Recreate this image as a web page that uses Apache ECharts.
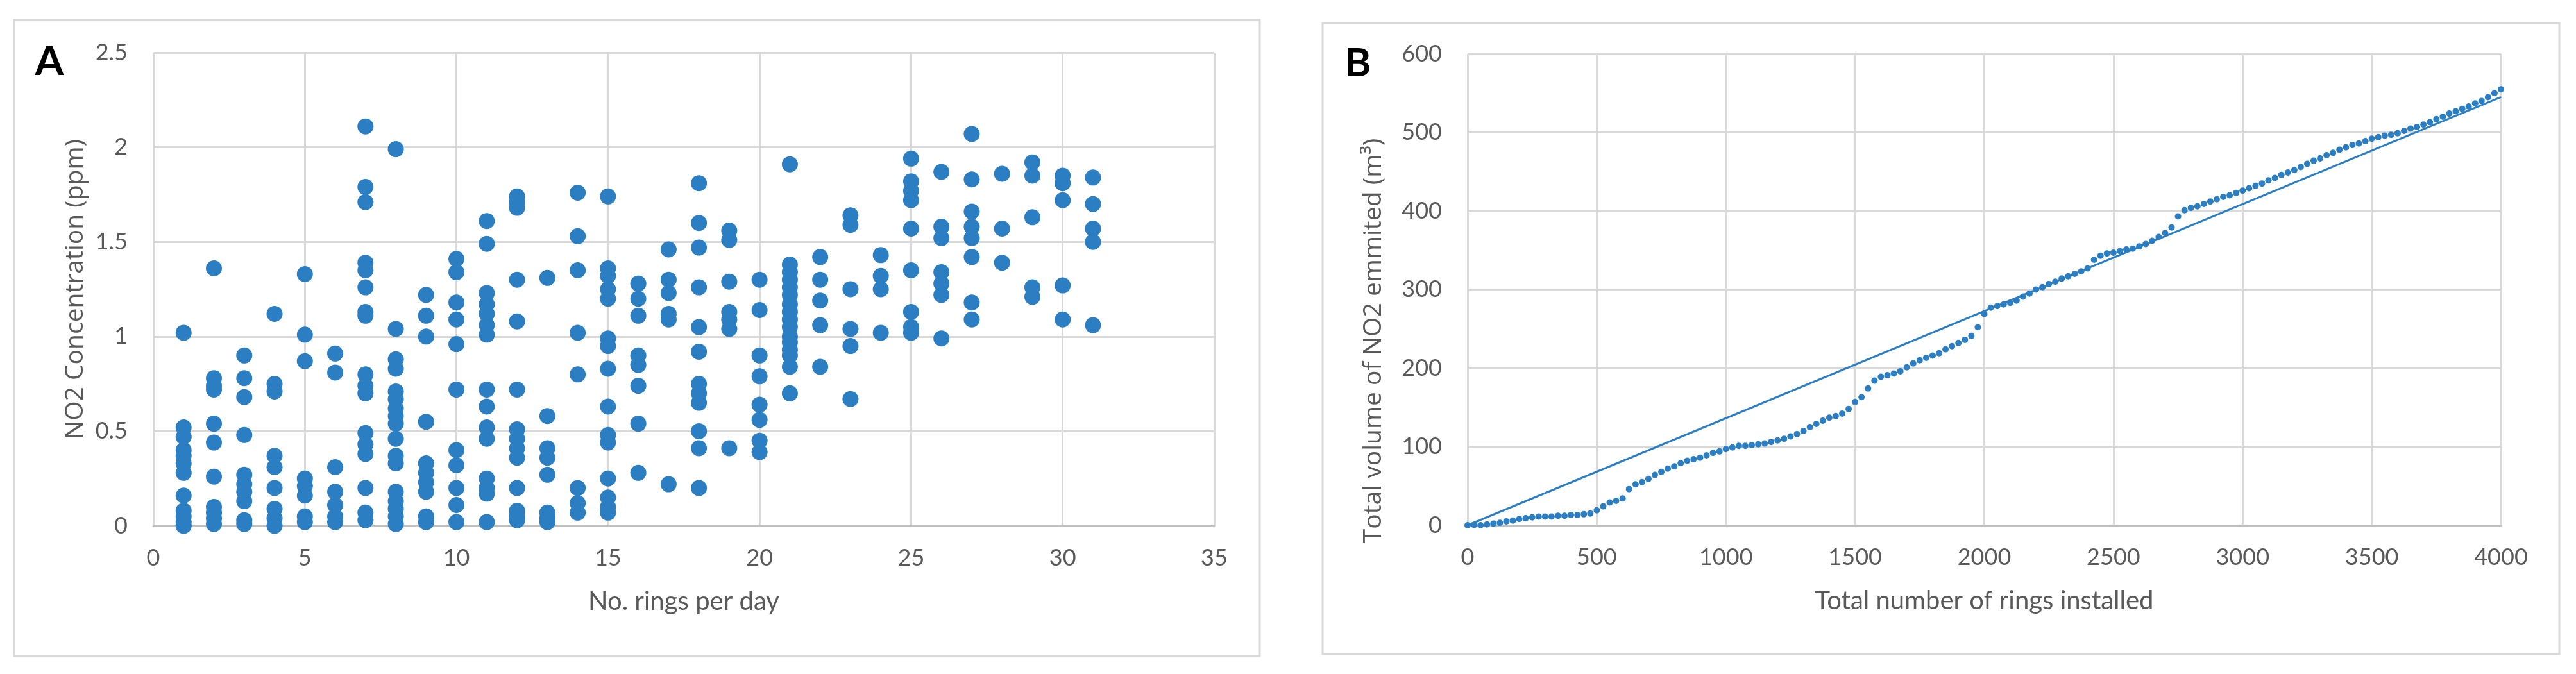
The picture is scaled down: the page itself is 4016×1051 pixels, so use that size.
<!DOCTYPE html>
<html>
<head>
<meta charset="utf-8">
<script src="https://cdn.jsdelivr.net/npm/echarts@6.0.0/dist/echarts.min.js"></script>
<style>
  html, body { margin: 0; padding: 0; background: #fff; }
  #chart { width: 4016px; height: 1051px; }
</style>
</head>
<body>
<div id="chart"></div>
<script>
// Panel A: NO2 concentration (ppm) against rings per day, one column of readings per x value
var colRings = [1, 2, 3, 4, 5, 6, 7, 8, 9, 10, 11, 12, 13, 14, 15, 16,
  17, 18, 19, 20, 21, 22, 23, 24, 25, 26, 27, 28, 29, 30, 31];
var colPpm = [
  [1.02, 0.52, 0.47, 0.40, 0.37, 0.33, 0.28, 0.16, 0.08, 0.05, 0.02, 0.0],
  [1.36, 0.78, 0.74, 0.72, 0.54, 0.44, 0.26, 0.10, 0.07, 0.04, 0.01],
  [0.90, 0.78, 0.68, 0.48, 0.27, 0.22, 0.18, 0.13, 0.03, 0.01],
  [1.12, 0.75, 0.71, 0.37, 0.31, 0.20, 0.09, 0.04, 0.0],
  [1.33, 1.01, 0.87, 0.25, 0.21, 0.16, 0.05, 0.02],
  [0.91, 0.81, 0.31, 0.18, 0.11, 0.05, 0.02],
  [2.11, 1.79, 1.71, 1.39, 1.35, 1.26, 1.13, 1.11, 0.80, 0.74, 0.70, 0.49, 0.43, 0.38, 0.20, 0.07, 0.03],
  [1.99, 1.04, 0.88, 0.83, 0.71, 0.67, 0.62, 0.58, 0.54, 0.46, 0.37, 0.33, 0.18, 0.13, 0.09, 0.05, 0.01],
  [1.22, 1.11, 1.00, 0.55, 0.33, 0.28, 0.23, 0.18, 0.05, 0.02],
  [1.41, 1.34, 1.18, 1.09, 0.96, 0.72, 0.40, 0.32, 0.20, 0.11, 0.02],
  [1.61, 1.49, 1.23, 1.17, 1.12, 1.06, 1.01, 0.72, 0.63, 0.52, 0.46, 0.25, 0.20, 0.17, 0.02],
  [1.74, 1.71, 1.68, 1.30, 1.08, 0.72, 0.51, 0.46, 0.41, 0.36, 0.20, 0.08, 0.05, 0.03],
  [1.31, 0.58, 0.41, 0.36, 0.27, 0.07, 0.04, 0.02],
  [1.76, 1.53, 1.35, 1.02, 0.80, 0.20, 0.12, 0.07],
  [1.74, 1.36, 1.32, 1.25, 1.20, 0.99, 0.95, 0.83, 0.63, 0.48, 0.44, 0.25, 0.15, 0.10, 0.07],
  [1.28, 1.20, 1.11, 0.90, 0.85, 0.74, 0.54, 0.28],
  [1.46, 1.30, 1.23, 1.12, 1.09, 0.22],
  [1.81, 1.60, 1.47, 1.26, 1.05, 0.92, 0.75, 0.70, 0.65, 0.50, 0.41, 0.20],
  [1.56, 1.51, 1.29, 1.13, 1.09, 1.04, 0.41],
  [1.30, 1.14, 0.90, 0.79, 0.64, 0.56, 0.45, 0.39],
  [1.91, 1.38, 1.34, 1.30, 1.26, 1.22, 1.17, 1.13, 1.09, 1.05, 1.00, 0.97, 0.93, 0.90, 0.84, 0.70],
  [1.42, 1.30, 1.19, 1.06, 0.84],
  [1.64, 1.59, 1.25, 1.04, 0.95, 0.67],
  [1.43, 1.32, 1.25, 1.02],
  [1.94, 1.82, 1.77, 1.72, 1.57, 1.35, 1.13, 1.05, 1.02],
  [1.87, 1.58, 1.52, 1.34, 1.28, 1.22, 0.99],
  [2.07, 1.83, 1.66, 1.58, 1.52, 1.42, 1.18, 1.09],
  [1.86, 1.57, 1.39],
  [1.92, 1.85, 1.63, 1.26, 1.21],
  [1.85, 1.81, 1.72, 1.27, 1.09],
  [1.84, 1.70, 1.57, 1.50, 1.06]
];

// Panel B: cumulative NO2 volume (m3) against total rings installed
var ringsInstalled = [0, 25, 50, 75, 100, 125, 150, 175, 200, 225, 250, 275, 300, 325, 350, 375,
  400, 425, 450, 475, 500, 525, 550, 575, 600, 625, 650, 675, 700, 725, 750, 775,
  800, 825, 850, 875, 900, 925, 950, 975, 1000, 1025, 1050, 1075, 1100, 1125, 1150, 1175,
  1200, 1225, 1250, 1275, 1300, 1325, 1350, 1375, 1400, 1425, 1450, 1475, 1500, 1525, 1550, 1575,
  1600, 1625, 1650, 1675, 1700, 1725, 1750, 1775, 1800, 1825, 1850, 1875, 1900, 1925, 1950, 1975,
  2000, 2025, 2050, 2075, 2100, 2125, 2150, 2175, 2200, 2225, 2250, 2275, 2300, 2325, 2350, 2375,
  2400, 2425, 2450, 2475, 2500, 2525, 2550, 2575, 2600, 2625, 2650, 2675, 2700, 2725, 2750, 2775,
  2800, 2825, 2850, 2875, 2900, 2925, 2950, 2975, 3000, 3025, 3050, 3075, 3100, 3125, 3150, 3175,
  3200, 3225, 3250, 3275, 3300, 3325, 3350, 3375, 3400, 3425, 3450, 3475, 3500, 3525, 3550, 3575,
  3600, 3625, 3650, 3675, 3700, 3725, 3750, 3775, 3800, 3825, 3850, 3875, 3900, 3925, 3950, 3975, 4000];
var volumeNO2 = [0, 0.5, 0, 1, 2, 3, 5, 6, 8, 9, 10, 11, 11, 11, 12, 12,
  13, 13, 14, 15, 19, 24, 29, 31, 34, 46, 52, 55, 59, 64, 68, 72,
  75, 79, 82, 84, 86, 89, 92, 94, 97, 99, 101, 101, 102, 103, 104, 106,
  108, 110, 113, 116, 120, 125, 129, 133, 137, 139, 142, 148, 157, 163, 174, 184,
  189, 191, 193, 196, 201, 206, 210, 213, 216, 219, 224, 228, 232, 236, 241, 252,
  269, 277, 279, 281, 283, 286, 291, 295, 300, 303, 307, 310, 314, 317, 320, 323,
  327, 338, 343, 346, 347, 349, 351, 352, 355, 358, 362, 367, 372, 379, 393, 401,
  404, 406, 409, 412, 415, 418, 420, 423, 426, 429, 432, 435, 439, 442, 446, 449,
  452, 456, 460, 464, 467, 471, 474, 478, 481, 484, 486, 489, 492, 494, 496, 497,
  499, 502, 505, 507, 510, 513, 517, 520, 524, 527, 530, 533, 537, 540, 545, 550, 555];
var trendRings = [0, 4000];
var trendVolume = [0, 545];

var blue = '#2b7ec1';
var grey = '#595959';

var scatterA = [];
colRings.forEach(function (x, i) {
  colPpm[i].forEach(function (v) { scatterA.push([x, v]); });
});
var scatterB = ringsInstalled.map(function (x, i) { return [x, volumeNO2[i]]; });
var lineB = trendRings.map(function (x, i) { return [x, trendVolume[i]]; });

function plain(v) { return String(v); }

function valueAxis(o) {
  return Object.assign({
    type: 'value',
    axisLine: { show: false },
    axisTick: { show: false },
    splitLine: { show: true, lineStyle: { color: '#d9d9d9', width: 3 } },
    nameTextStyle: { color: grey, fontSize: 40, fontFamily: 'Lato' },
    nameLocation: 'middle'
  }, o);
}
var bottomLine = { show: true, lineStyle: { color: '#bfbfbf', width: 3 } };
var xLabel = { color: grey, fontSize: 36, fontFamily: 'Lato', margin: 32, formatter: plain };
var yLabel = { color: grey, fontSize: 36, fontFamily: 'Lato', margin: 40, formatter: plain };

var chart = echarts.init(document.getElementById('chart'), null, { renderer: 'canvas' });
chart.setOption({
  backgroundColor: '#fff',
  animation: false,
  grid: [
    { left: 239, top: 82, width: 1654, height: 738 },
    { left: 2288, top: 84, width: 1611, height: 735 }
  ],
  xAxis: [
    valueAxis({ gridIndex: 0, min: 0, max: 35, interval: 5, axisLine: bottomLine,
      name: 'No. rings per day', nameGap: 98, axisLabel: xLabel }),
    valueAxis({ gridIndex: 1, min: 0, max: 4000, interval: 500, axisLine: bottomLine,
      name: 'Total number of rings installed', nameGap: 98, axisLabel: xLabel })
  ],
  yAxis: [
    valueAxis({ gridIndex: 0, min: 0, max: 2.5, interval: 0.5,
      name: 'NO2 Concentration (ppm)', nameGap: 102,
      nameTextStyle: { color: grey, fontSize: 39, fontFamily: 'Open Sans' },
      axisLabel: yLabel }),
    valueAxis({ gridIndex: 1, min: 0, max: 600, interval: 100, axisLabel: yLabel })
  ],
  graphic: [
    { type: 'rect', shape: { x: 22, y: 31, width: 1942, height: 992 },
      style: { fill: 'none', stroke: '#d9d9d9', lineWidth: 3 }, z: -1 },
    { type: 'rect', shape: { x: 2062, y: 36, width: 1928, height: 984 },
      style: { fill: 'none', stroke: '#d9d9d9', lineWidth: 3 }, z: -1 },
    { type: 'text', x: 77, y: 96,
      style: { text: 'A', fontSize: 64, fontWeight: 'bold', fontFamily: 'Lato', fill: '#000',
        textAlign: 'center', textVerticalAlign: 'middle' } },
    { type: 'text', x: 2117, y: 99,
      style: { text: 'B', fontSize: 62, fontWeight: 'bold', fontFamily: 'Lato', fill: '#000',
        textAlign: 'center', textVerticalAlign: 'middle' } },
    // the B axis title sits lower than the plot centre in the original
    { type: 'text', x: 2142, y: 531, rotation: Math.PI / 2,
      style: { text: 'Total volume of NO2 emmited (m³)', fontSize: 39, fontFamily: 'Open Sans', fill: grey,
        textAlign: 'center', textVerticalAlign: 'middle' } }
  ],
  series: [
    { type: 'scatter', xAxisIndex: 0, yAxisIndex: 0, data: scatterA,
      symbolSize: 25, itemStyle: { color: blue, opacity: 1 } },
    { type: 'line', xAxisIndex: 1, yAxisIndex: 1, data: lineB, showSymbol: false,
      lineStyle: { color: blue, width: 3 } },
    { type: 'scatter', xAxisIndex: 1, yAxisIndex: 1, data: scatterB,
      symbolSize: 10, itemStyle: { color: blue, opacity: 1 } }
  ]
});
</script>
</body>
</html>
